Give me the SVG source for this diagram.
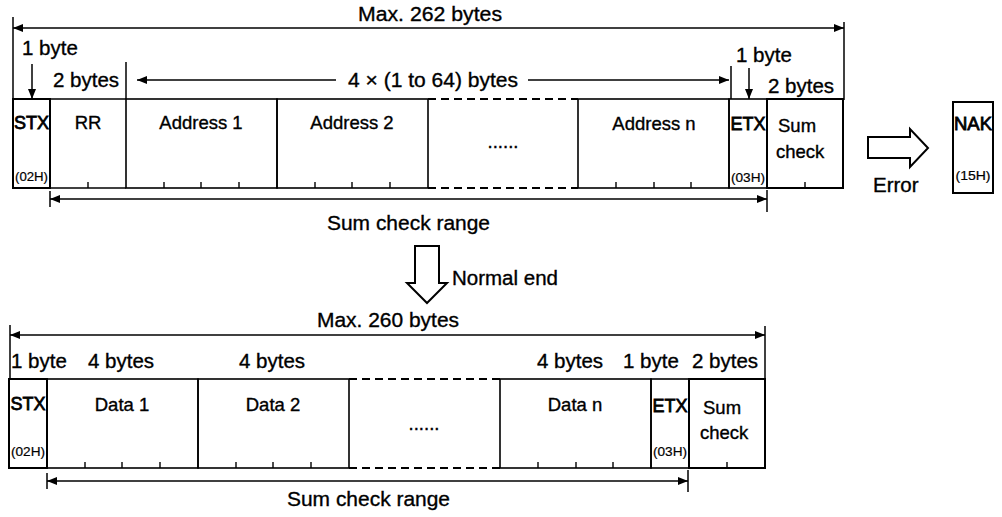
<svg xmlns="http://www.w3.org/2000/svg" width="1002" height="517" viewBox="0 0 1002 517">
<defs>
<marker id="ah" viewBox="0 0 10 8" refX="10" refY="4" markerWidth="10" markerHeight="8" markerUnits="userSpaceOnUse" orient="auto-start-reverse"><path d="M0,0 L10,4 L0,8 Z" fill="#000"/></marker>
</defs>
<style>
text{font-family:"Liberation Sans",Arial,sans-serif;fill:#000;stroke:#000;stroke-width:0.35}
.lb{font-size:20.5px}
.bx{font-size:18.5px}
.sm{font-size:12.5px;stroke-width:0.2}
.hv{stroke-width:0.8}
.box{fill:none;stroke:#000;stroke-width:2}
.dv{stroke:#000;stroke-width:1.6}
.dash{stroke:#000;stroke-width:2;stroke-dasharray:8,5}
.tk{stroke:#000;stroke-width:1.4}
.ln{stroke:#000;stroke-width:1.5;fill:none}
.hol{fill:#fff;stroke:#000;stroke-width:2}
</style>
<rect width="1002" height="517" fill="#fff"/>

<g id="connectors">
  <line class="ln" x1="13" y1="17" x2="13" y2="99"/>
  <line class="ln" x1="844" y1="22" x2="844" y2="100"/>
  <line class="ln" x1="13" y1="28" x2="844" y2="28" marker-start="url(#ah)" marker-end="url(#ah)"/>
  <line class="ln" x1="32" y1="64" x2="32" y2="99" marker-end="url(#ah)"/>
  <line class="ln" x1="126" y1="62" x2="126" y2="99"/>
  <line class="ln" x1="137" y1="80" x2="336" y2="80" marker-start="url(#ah)"/>
  <line class="ln" x1="528" y1="80" x2="729" y2="80" marker-end="url(#ah)"/>
  <line class="ln" x1="731" y1="66" x2="731" y2="99"/>
  <line class="ln" x1="749" y1="68" x2="749" y2="99" marker-end="url(#ah)"/>
  <line class="ln" x1="50" y1="191" x2="50" y2="207"/>
  <line class="ln" x1="767" y1="190" x2="767" y2="212"/>
  <line class="ln" x1="50" y1="199" x2="767" y2="199" marker-start="url(#ah)" marker-end="url(#ah)"/>
  <polygon class="hol" points="415,246 439,246 439,283 447,283 427,303 407,283 415,283"/>
  <polygon class="hol" points="868,137 910,137 910,129 928,148 910,167 910,158 868,158"/>
  <line class="ln" x1="10" y1="325" x2="10" y2="379"/>
  <line class="ln" x1="765" y1="326" x2="765" y2="380"/>
  <line class="ln" x1="10" y1="335" x2="765" y2="335" marker-start="url(#ah)" marker-end="url(#ah)"/>
  <line class="ln" x1="47" y1="473" x2="47" y2="489"/>
  <line class="ln" x1="688" y1="470" x2="688" y2="492"/>
  <line class="ln" x1="47" y1="481" x2="688" y2="481" marker-start="url(#ah)" marker-end="url(#ah)"/>
</g>

<g id="labels-top">
  <text class="lb" x="358" y="21" textLength="144" lengthAdjust="spacingAndGlyphs">Max. 262 bytes</text>
  <text class="lb" x="22" y="55">1 byte</text>
  <text class="lb" x="53" y="87">2 bytes</text>
  <text class="lb" x="348" y="87" textLength="170" lengthAdjust="spacingAndGlyphs">4 × (1 to 64) bytes</text>
  <text class="lb" x="736" y="62">1 byte</text>
  <text class="lb" x="768" y="93">2 bytes</text>
  <text class="lb" x="327" y="230" textLength="163" lengthAdjust="spacingAndGlyphs">Sum check range</text>
  <text class="lb" x="452" y="285">Normal end</text>
  <text class="lb" x="873" y="192">Error</text>
</g>

<g id="frame1">
  <g id="f1-stx">
    <rect class="box" x="13" y="99" width="37" height="89"/>
    <text class="bx hv" x="31.5" y="129" text-anchor="middle" textLength="35" lengthAdjust="spacingAndGlyphs">STX</text>
    <text class="sm" x="31.5" y="181" text-anchor="middle" textLength="33" lengthAdjust="spacingAndGlyphs">(02H)</text>
  </g>
  <g id="f1-rr">
    <line class="dv" x1="50" y1="99" x2="126" y2="99"/>
    <line class="dv" x1="50" y1="188" x2="126" y2="188"/>
    <line class="tk" x1="88" y1="188" x2="88" y2="182"/>
    <text class="bx" x="88" y="129" text-anchor="middle">RR</text>
  </g>
  <g id="f1-addr1">
    <rect class="dv" fill="none" x="126" y="99" width="151" height="89"/>
    <line class="tk" x1="164" y1="188" x2="164" y2="182"/>
    <line class="tk" x1="201" y1="188" x2="201" y2="182"/>
    <line class="tk" x1="239" y1="188" x2="239" y2="182"/>
    <text class="bx" x="201" y="129" text-anchor="middle">Address 1</text>
  </g>
  <g id="f1-addr2">
    <rect class="dv" fill="none" x="277" y="99" width="151" height="89"/>
    <line class="tk" x1="315" y1="188" x2="315" y2="182"/>
    <line class="tk" x1="352" y1="188" x2="352" y2="182"/>
    <line class="tk" x1="390" y1="188" x2="390" y2="182"/>
    <text class="bx" x="352" y="129" text-anchor="middle">Address 2</text>
  </g>
  <g id="f1-gap">
    <line class="dash" x1="428" y1="99" x2="578" y2="99"/>
    <line class="dash" x1="428" y1="188" x2="578" y2="188"/>
    <text class="bx" x="503" y="148" text-anchor="middle" font-size="15">......</text>
  </g>
  <g id="f1-addrn">
    <rect class="dv" fill="none" x="578" y="99" width="151" height="89"/>
    <line class="tk" x1="616" y1="188" x2="616" y2="182"/>
    <line class="tk" x1="654" y1="188" x2="654" y2="182"/>
    <line class="tk" x1="691" y1="188" x2="691" y2="182"/>
    <text class="bx" x="654" y="130" text-anchor="middle">Address n</text>
  </g>
  <g id="f1-etx">
    <rect class="dv" fill="none" x="729" y="99" width="38" height="89"/>
    <text class="bx hv" x="748" y="130" text-anchor="middle" textLength="35" lengthAdjust="spacingAndGlyphs">ETX</text>
    <text class="sm" x="748" y="182" text-anchor="middle" textLength="34" lengthAdjust="spacingAndGlyphs">(03H)</text>
  </g>
  <g id="f1-sum">
    <rect class="box" x="767" y="99" width="76" height="89"/>
    <line class="tk" x1="805" y1="188" x2="805" y2="182"/>
    <text class="bx" x="778" y="132">Sum</text>
    <text class="bx" x="776" y="158">check</text>
  </g>
</g>

<g id="nak">
  <rect class="box" x="953" y="102" width="40" height="91"/>
  <text class="bx hv" x="973" y="130" text-anchor="middle" textLength="38" lengthAdjust="spacingAndGlyphs">NAK</text>
  <text class="sm" x="973" y="180" text-anchor="middle" textLength="35" lengthAdjust="spacingAndGlyphs">(15H)</text>
</g>

<g id="labels-bottom">
  <text class="lb" x="317" y="327" textLength="142" lengthAdjust="spacingAndGlyphs">Max. 260 bytes</text>
  <text class="lb" x="11" y="368">1 byte</text>
  <text class="lb" x="88" y="368">4 bytes</text>
  <text class="lb" x="239" y="368">4 bytes</text>
  <text class="lb" x="537" y="368">4 bytes</text>
  <text class="lb" x="623" y="368">1 byte</text>
  <text class="lb" x="692" y="368">2 bytes</text>
  <text class="lb" x="287" y="506" textLength="163" lengthAdjust="spacingAndGlyphs">Sum check range</text>
</g>

<g id="frame2">
  <g id="f2-stx">
    <rect class="box" x="9" y="379" width="38" height="89"/>
    <text class="bx hv" x="28" y="410" text-anchor="middle" textLength="35" lengthAdjust="spacingAndGlyphs">STX</text>
    <text class="sm" x="28" y="456" text-anchor="middle" textLength="34" lengthAdjust="spacingAndGlyphs">(02H)</text>
  </g>
  <g id="f2-data1">
    <rect class="dv" fill="none" x="47" y="379" width="151" height="89"/>
    <line class="tk" x1="85" y1="468" x2="85" y2="462"/>
    <line class="tk" x1="122" y1="468" x2="122" y2="462"/>
    <line class="tk" x1="160" y1="468" x2="160" y2="462"/>
    <text class="bx" x="122" y="411" text-anchor="middle">Data 1</text>
  </g>
  <g id="f2-data2">
    <rect class="dv" fill="none" x="198" y="379" width="151" height="89"/>
    <line class="tk" x1="236" y1="468" x2="236" y2="462"/>
    <line class="tk" x1="273" y1="468" x2="273" y2="462"/>
    <line class="tk" x1="311" y1="468" x2="311" y2="462"/>
    <text class="bx" x="273" y="411" text-anchor="middle">Data 2</text>
  </g>
  <g id="f2-gap">
    <line class="dash" x1="349" y1="379" x2="500" y2="379"/>
    <line class="dash" x1="349" y1="468" x2="500" y2="468"/>
    <text class="bx" x="424" y="430" text-anchor="middle" font-size="15">......</text>
  </g>
  <g id="f2-datan">
    <rect class="dv" fill="none" x="500" y="379" width="151" height="89"/>
    <line class="tk" x1="538" y1="468" x2="538" y2="462"/>
    <line class="tk" x1="576" y1="468" x2="576" y2="462"/>
    <line class="tk" x1="613" y1="468" x2="613" y2="462"/>
    <text class="bx" x="575" y="411" text-anchor="middle">Data n</text>
  </g>
  <g id="f2-etx">
    <rect class="dv" fill="none" x="651" y="379" width="38" height="89"/>
    <text class="bx hv" x="670" y="412" text-anchor="middle" textLength="35" lengthAdjust="spacingAndGlyphs">ETX</text>
    <text class="sm" x="670" y="456" text-anchor="middle" textLength="34" lengthAdjust="spacingAndGlyphs">(03H)</text>
  </g>
  <g id="f2-sum">
    <rect class="box" x="689" y="379" width="76" height="89"/>
    <line class="tk" x1="727" y1="468" x2="727" y2="462"/>
    <text class="bx" x="703" y="414">Sum</text>
    <text class="bx" x="700" y="439">check</text>
  </g>
</g>
</svg>
